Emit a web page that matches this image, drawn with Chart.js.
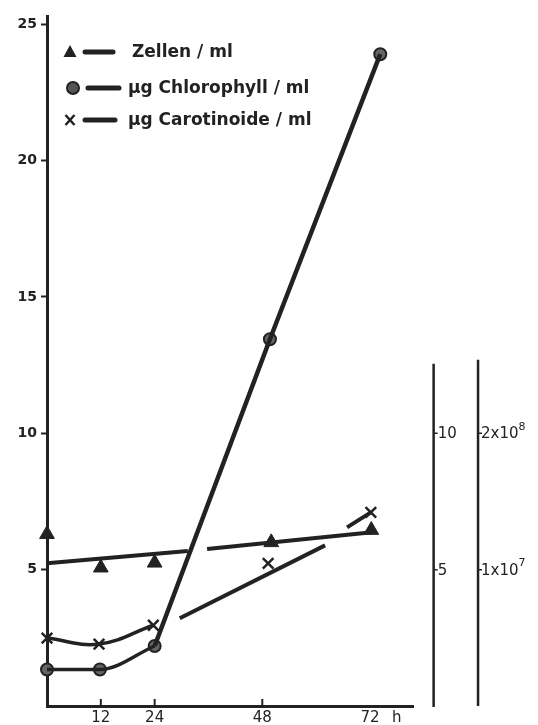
<!DOCTYPE html>
<html>
<head>
<meta charset="utf-8">
<script src="https://cdn.jsdelivr.net/npm/chart.js@4/dist/chart.umd.min.js"></script>
<style>
  html, body { margin: 0; padding: 0; background: #fff; }
  canvas { display: block; }
</style>
</head>
<body>
<canvas id="chart" width="538" height="725"></canvas>
<script>
// Werte (x = Stunden)
const zellenH = [0, 12, 24, 50, 72.3];
const zellenVal = [6.3, 5.07, 5.25, 6.0, 6.45];
// Ausgleichsgerade Zellen, unterbrochen an der Kreuzung
const zellenFitH = [0, 31.4, 33.5, 35.7, 72.5];
const zellenFitVal = [5.23, 5.68, null, 5.76, 6.37];

const chloroH = [0, 11.8, 24, 49.7, 74.3];
const chloroVal = [1.34, 1.34, 2.2, 13.45, 23.9];

const caroH = [0, 11.6, 23.7, 49.3, 72.2];
const caroVal = [2.49, 2.27, 2.96, 5.23, 7.1];
const caroFitH = [29.6, 62.0, 64.5, 66.9, 72.2];
const caroFitVal = [3.22, 5.89, null, 6.55, 7.1];

const yTicks = [5, 10, 15, 20, 25];
const xTicks = [12, 24, 48, 72, 78];
const xTickMarks = [12, 24, 48];
const xUnitAt = 78; // "h"

// rechte Achsen
const rightTicks = [10, 5];
const rightLabels1 = ["10", "5"];
const rightLabels2 = ["2x10", "1x10"];
const rightSup2 = ["8", "7"];

const legendLabels = ["Zellen / ml", "µg Chlorophyll / ml", "µg Carotinoide / ml"];

const INK = "#222";

function pts(xs, ys) {
  return xs.map((x, i) => ({ x: x, y: ys[i] }));
}

// Achsen rechts, Tickstriche innen, Legende
const extras = {
  id: "extras",
  afterDraw(chart) {
    const ctx = chart.ctx;
    const xs = chart.scales.x;
    const ys = chart.scales.y;
    ctx.save();
    ctx.strokeStyle = INK;
    ctx.fillStyle = INK;
    ctx.lineCap = "butt";

    // kleine Striche nach innen auf der Zeitachse
    ctx.lineWidth = 2;
    const y0 = ys.getPixelForValue(0);
    xTickMarks.forEach((v) => {
      const px = xs.getPixelForValue(v);
      ctx.beginPath();
      ctx.moveTo(px, y0);
      ctx.lineTo(px, y0 - 7);
      ctx.stroke();
    });

    // zwei rechte Achsen
    const ax1 = xs.getPixelForValue(86.2);
    const ax2 = xs.getPixelForValue(96.1);
    ctx.lineWidth = 2.5;
    ctx.beginPath();
    ctx.moveTo(ax1, ys.getPixelForValue(12.55));
    ctx.lineTo(ax1, y0 + 1);
    ctx.moveTo(ax2, ys.getPixelForValue(12.7));
    ctx.lineTo(ax2, y0);
    ctx.stroke();

    ctx.textBaseline = "middle";
    ctx.textAlign = "left";
    ctx.lineWidth = 1.5;
    rightTicks.forEach((v, i) => {
      const py = ys.getPixelForValue(v);
      ctx.beginPath();
      ctx.moveTo(ax1, py);
      ctx.lineTo(ax1 + 4, py);
      ctx.moveTo(ax2, py);
      ctx.lineTo(ax2 + 4, py);
      ctx.stroke();
      ctx.font = "15px 'DejaVu Sans'";
      ctx.fillText(rightLabels1[i], ax1 + 4, py + 1);
      ctx.fillText(rightLabels2[i], ax2 + 3, py + 1);
      const w = ctx.measureText(rightLabels2[i]).width;
      ctx.font = "11px 'DejaVu Sans'";
      ctx.fillText(rightSup2[i], ax2 + 3 + w, py - 6);
    });

    // Legende
    const rows = [
      { y: 52, mx: 70, l0: 85, l1: 113, tx: 132, style: "triangle" },
      { y: 88, mx: 73, l0: 88, l1: 119, tx: 128, style: "circle" },
      { y: 120, mx: 70, l0: 85, l1: 115, tx: 128, style: "cross" }
    ];
    rows.forEach((r, i) => {
      ctx.fillStyle = INK;
      ctx.strokeStyle = INK;
      if (r.style === "triangle") {
        ctx.beginPath();
        ctx.moveTo(r.mx, r.y - 7);
        ctx.lineTo(r.mx + 6.5, r.y + 5);
        ctx.lineTo(r.mx - 6.5, r.y + 5);
        ctx.closePath();
        ctx.fill();
      } else if (r.style === "circle") {
        ctx.beginPath();
        ctx.arc(r.mx, r.y, 6, 0, Math.PI * 2);
        ctx.fillStyle = "#555";
        ctx.fill();
        ctx.lineWidth = 2;
        ctx.stroke();
      } else {
        ctx.lineWidth = 2.5;
        ctx.beginPath();
        ctx.moveTo(r.mx - 4.5, r.y - 5);
        ctx.lineTo(r.mx + 4.5, r.y + 5);
        ctx.moveTo(r.mx + 4.5, r.y - 5);
        ctx.lineTo(r.mx - 4.5, r.y + 5);
        ctx.stroke();
      }
      ctx.lineWidth = 5;
      ctx.lineCap = "round";
      ctx.beginPath();
      ctx.moveTo(r.l0, r.y);
      ctx.lineTo(r.l1, r.y);
      ctx.stroke();
      ctx.lineCap = "butt";
      ctx.fillStyle = INK;
      ctx.font = "bold 17px 'DejaVu Sans'";
      ctx.fillText(legendLabels[i], r.tx, r.y + 1);
    });
    ctx.restore();
  }
};

const lineDefaults = {
  borderColor: INK,
  pointRadius: 0,
  fill: false,
  spanGaps: false,
  clip: false
};

new Chart(document.getElementById("chart"), {
  type: "line",
  data: {
    datasets: [
      Object.assign({}, lineDefaults, {
        label: "Zellen Ausgleich",
        data: pts(zellenFitH, zellenFitVal),
        borderWidth: 4,
        tension: 0
      }),
      Object.assign({}, lineDefaults, {
        label: "Chlorophyll Kurve",
        data: pts(chloroH.slice(0, 3), chloroVal.slice(0, 3)),
        borderWidth: 3.5,
        cubicInterpolationMode: "monotone"
      }),
      Object.assign({}, lineDefaults, {
        label: "Chlorophyll Gerade",
        data: pts(chloroH.slice(2), chloroVal.slice(2)),
        borderWidth: 4.5,
        tension: 0
      }),
      Object.assign({}, lineDefaults, {
        label: "Carotinoide Kurve",
        data: pts(caroH.slice(0, 3), caroVal.slice(0, 3)),
        borderWidth: 3.5,
        tension: 0.4
      }),
      Object.assign({}, lineDefaults, {
        label: "Carotinoide Ausgleich",
        data: pts(caroFitH, caroFitVal),
        borderWidth: 4,
        tension: 0
      }),
      {
        label: "Zellen / ml",
        data: pts(zellenH, zellenVal),
        showLine: false,
        clip: false,
        pointStyle: "triangle",
        pointRadius: 8.5,
        pointBackgroundColor: INK,
        pointBorderColor: INK,
        pointBorderWidth: 1
      },
      {
        label: "µg Chlorophyll / ml",
        data: pts(chloroH, chloroVal),
        showLine: false,
        clip: false,
        pointStyle: "circle",
        pointRadius: 6,
        pointBackgroundColor: "#666",
        pointBorderColor: INK,
        pointBorderWidth: 2
      },
      {
        label: "µg Carotinoide / ml",
        data: pts(caroH, caroVal),
        showLine: false,
        clip: false,
        pointStyle: "crossRot",
        pointRadius: 7.5,
        pointBorderColor: INK,
        pointBorderWidth: 2.5
      }
    ]
  },
  options: {
    responsive: false,
    animation: false,
    devicePixelRatio: 1,
    layout: { padding: { top: 16, right: 125, left: 0, bottom: 0 } },
    plugins: {
      legend: { display: false },
      tooltip: { enabled: false }
    },
    scales: {
      x: {
        type: "linear",
        min: 0,
        max: 81.6,
        afterBuildTicks: (scale) => {
          scale.ticks = xTicks.map((v) => ({ value: v }));
        },
        afterFit: (scale) => {
          scale.height = 19;
        },
        grid: { display: false },
        border: { display: true, color: INK, width: 3 },
        ticks: {
          color: INK,
          padding: -5,
          maxRotation: 0,
          autoSkip: false,
          font: { family: "'DejaVu Sans'", size: 15 },
          callback: (v) => (v === xUnitAt ? "h" : String(v))
        }
      },
      y: {
        min: 0,
        max: 25.3,
        afterBuildTicks: (scale) => {
          scale.ticks = yTicks.map((v) => ({ value: v }));
        },
        afterFit: (scale) => {
          scale.width = 47;
        },
        grid: {
          drawOnChartArea: false,
          tickLength: 6,
          tickWidth: 2,
          tickColor: INK
        },
        border: { display: true, color: INK, width: 3 },
        ticks: {
          color: INK,
          padding: 4,
          font: { family: "'DejaVu Sans'", size: 14, weight: "bold" }
        }
      }
    }
  },
  plugins: [extras]
});
</script>
</body>
</html>
